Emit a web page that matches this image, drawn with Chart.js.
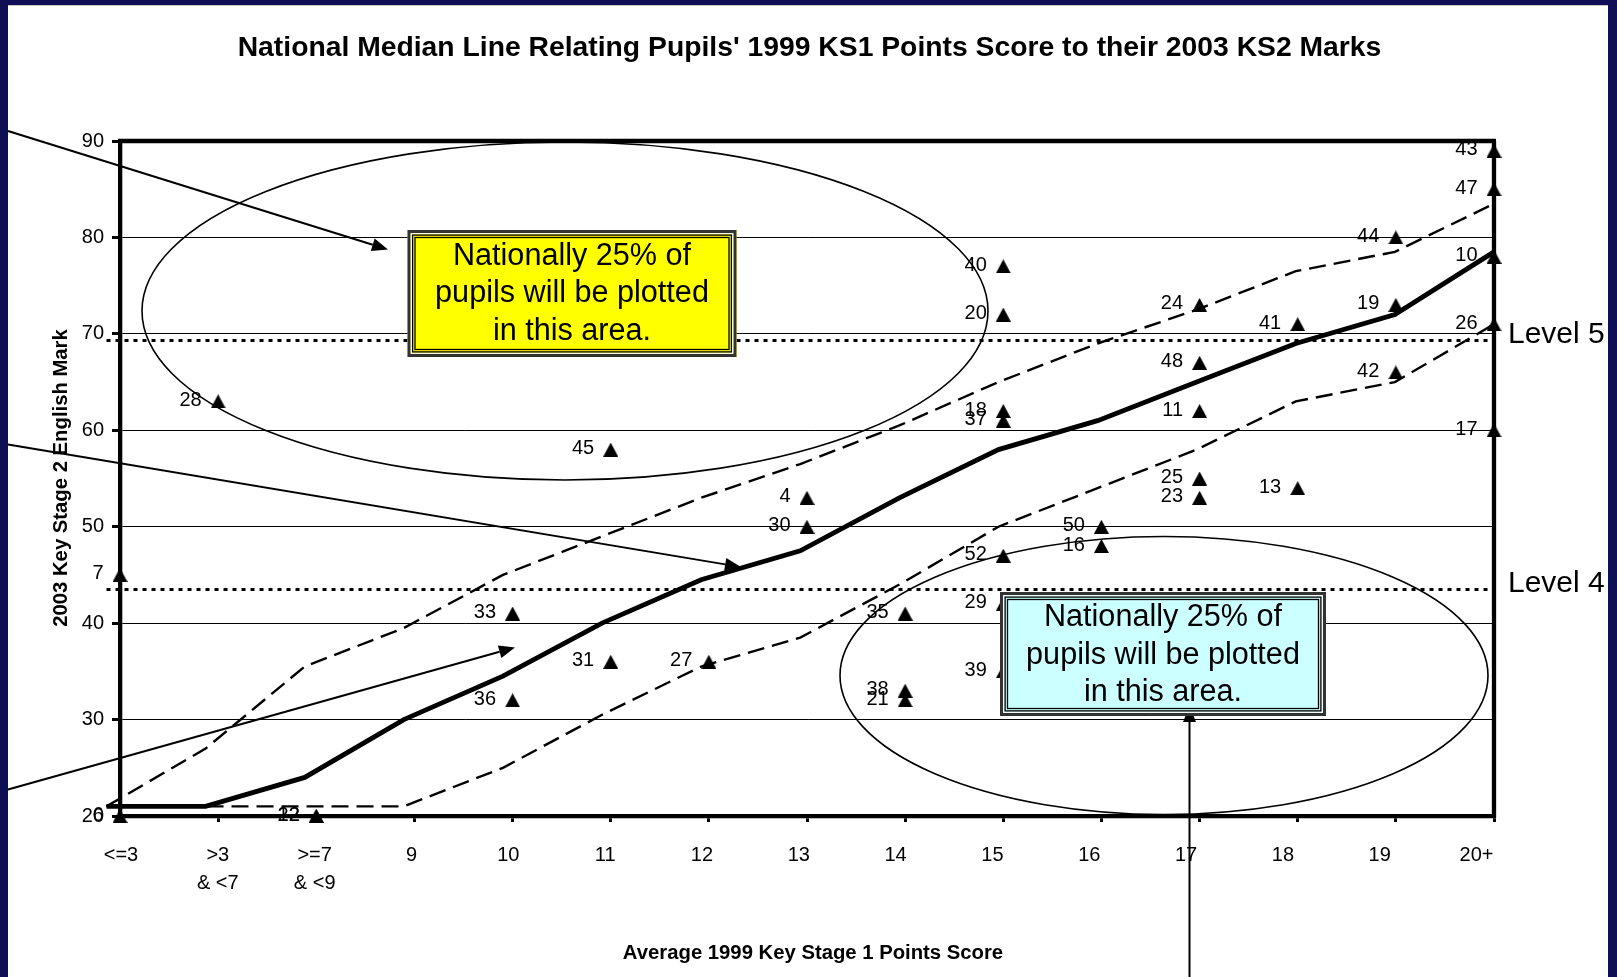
<!DOCTYPE html>
<html><head><meta charset="utf-8">
<script src="https://cdn.jsdelivr.net/npm/chart.js@4.4.1/dist/chart.umd.min.js"></script>
<style>html,body{margin:0;padding:0;background:#fff;overflow:hidden}canvas{display:block}</style>
</head><body>
<canvas id="c" width="1617" height="977"></canvas>
<script>
// ---------- data ----------
const categories = ['<=3', ['>3', '& <7'], ['>=7', '& <9'], '9', '10', '11', '12', '13', '14', '15', '16', '17', '18', '19', '20+'];
const yTicks = [20, 30, 40, 50, 60, 70, 80, 90];

const pupilIds  = ['28','45','40','20','18','37','4','30','52','50','16','7','33','35','29','31','27','39','38','21','36','24','41','19','44','48','11','42','25','23','13','43','47','10','26','17','6','12','22'];
const pupilCat  = [1, 5, 9, 9, 9, 9, 7, 7, 9, 10, 10, 0, 4, 8, 9, 5, 6, 9, 8, 8, 4, 11, 12, 13, 13, 11, 11, 13, 11, 11, 12, 14, 14, 14, 14, 14, 0, 2, 2];
const pupilMark = [63, 58, 77, 72, 62, 61, 53, 50, 47, 50, 48, 45, 41, 41, 42, 36, 36, 35, 33, 32, 32, 73, 71, 73, 80, 67, 62, 66, 55, 53, 54, 89, 85, 78, 71, 60, 20, 20, 20];

const medianLine    = [21, 21, 24, 30, 34.5, 40, 44.5, 47.5, 53, 58, 61, 65, 69, 72, 78.5];
const upperQuartile = [21, 27, 35.5, 39.5, 45, 49, 53, 56.5, 60.5, 65, 69, 72.5, 76.5, 78.5, 83.5];
const lowerQuartile = [21, 21, 21, 21, 25, 30.5, 35.5, 38.5, 44, 50, 54, 58, 63, 65, 71];

const levelNames = ['Level 5', 'Level 4'];
const levelMarks = [69.3, 43.5];

const chartTitle = "National Median Line Relating Pupils' 1999 KS1 Points Score to their 2003 KS2 Marks";
const xTitle = 'Average 1999 Key Stage 1 Points Score';
const yTitle = '2003 Key Stage 2 English Mark';
const noteLines = ['Nationally 25% of', 'pupils will be plotted', 'in this area.'];

// ---------- helpers ----------
const FONT = "'Liberation Sans', Arial, Helvetica, sans-serif";
Chart.defaults.font.family = FONT;
Chart.defaults.color = '#000';

const lastIdx = categories.length - 1;
const toPts = arr => arr.map((v, i) => ({x: i, y: v}));

// Triangle marker centred on its bounding box (like the spreadsheet marker)
const tri = document.createElement('canvas');
tri.width = 15; tri.height = 14;
(function(){ const t = tri.getContext('2d'); t.beginPath(); t.moveTo(7.5, 0); t.lineTo(15, 14); t.lineTo(0, 14); t.closePath(); t.fillStyle = '#000'; t.fill(); })();

function arrow(ctx, x1, y1, x2, y2) {
  const a = Math.atan2(y2 - y1, x2 - x1), L = 16, W = 6.5;
  const bx = x2 - L * Math.cos(a), by = y2 - L * Math.sin(a);
  ctx.beginPath(); ctx.moveTo(x1, y1); ctx.lineTo(bx, by);
  ctx.lineWidth = 2; ctx.strokeStyle = '#000'; ctx.stroke();
  ctx.beginPath(); ctx.moveTo(x2, y2);
  ctx.lineTo(bx - W * Math.sin(a), by + W * Math.cos(a));
  ctx.lineTo(bx + W * Math.sin(a), by - W * Math.cos(a));
  ctx.closePath(); ctx.fillStyle = '#000'; ctx.fill();
}
function ellipse(ctx, cx, cy, rx, ry) {
  ctx.beginPath(); ctx.ellipse(cx, cy, rx, ry, 0, 0, Math.PI * 2);
  ctx.lineWidth = 1.6; ctx.strokeStyle = '#000'; ctx.stroke();
}
function noteBox(ctx, x0, y0, x1, y1, fill, baselines) {
  ctx.fillStyle = fill; ctx.fillRect(x0, y0, x1 - x0, y1 - y0);
  const sr = (ins, w, c) => { ctx.lineWidth = w; ctx.strokeStyle = c; ctx.strokeRect(x0 + ins, y0 + ins, x1 - x0 - 2 * ins, y1 - y0 - 2 * ins); };
  sr(1.6, 3.2, '#333');
  sr(3.8, 1.3, '#fff');
  sr(5.1, 1.3, '#000');
  sr(7.5, 1.3, '#000');
  ctx.fillStyle = '#000'; ctx.font = '30.6px ' + FONT; ctx.textAlign = 'center'; ctx.textBaseline = 'alphabetic';
  const cx = (x0 + x1) / 2;
  noteLines.forEach((t, i) => ctx.fillText(t, cx, baselines[i]));
}

const decor = {
  id: 'decor',
  beforeDraw(chart) {
    const ctx = chart.ctx;
    ctx.save();
    ctx.fillStyle = '#0f0f55'; ctx.fillRect(0, 0, 1617, 977);
    ctx.fillStyle = '#ffffff'; ctx.fillRect(8, 5, 1600, 972);
    ctx.fillStyle = '#c8c8c8'; ctx.fillRect(8, 5, 1600, 1);
    ctx.restore();
  },
  beforeDatasetsDraw(chart) {
    const {ctx, chartArea: a} = chart;
    ctx.save();
    ctx.strokeStyle = '#000'; ctx.lineWidth = 4.3;
    ctx.beginPath(); ctx.moveTo(a.left - 2, a.top); ctx.lineTo(a.right + 2, a.top);
    ctx.moveTo(a.right, a.top); ctx.lineTo(a.right, a.bottom + 2); ctx.stroke();
    ctx.restore();
  },
  afterDatasetsDraw(chart) {
    const ctx = chart.ctx;
    const meta = chart.getDatasetMeta(0);
    ctx.save();
    ctx.font = '20px ' + FONT; ctx.fillStyle = '#000';
    ctx.textAlign = 'right'; ctx.textBaseline = 'middle';
    meta.data.forEach((p, i) => ctx.fillText(pupilIds[i], p.x - 16.5, p.y - 1));
    ctx.restore();
  },
  afterDraw(chart) {
    const ctx = chart.ctx;
    const ys = chart.scales.y;
    ctx.save();
    // ellipses
    ellipse(ctx, 565, 311, 423, 169);
    ellipse(ctx, 1164, 675.5, 324, 139);
    // arrows
    arrow(ctx, 8, 131, 388, 249.5);
    arrow(ctx, 8, 444.6, 741, 567);
    arrow(ctx, 8, 789.5, 515, 647.5);
    arrow(ctx, 1189.5, 977, 1189.5, 706);
    // boxes
    noteBox(ctx, 407.5, 230, 736.5, 357, '#ffff00', [264.5, 302, 339.5]);
    noteBox(ctx, 1000, 592, 1326, 716, '#ccffff', [626, 663.5, 701]);
    // level labels
    ctx.fillStyle = '#000'; ctx.font = '30px ' + FONT; ctx.textAlign = 'left'; ctx.textBaseline = 'middle';
    levelMarks.forEach((v, i) => ctx.fillText(levelNames[i], 1508, ys.getPixelForValue(v) - 6));
    // titles
    ctx.textAlign = 'center'; ctx.textBaseline = 'alphabetic';
    ctx.font = 'bold 28.3px ' + FONT;
    ctx.fillText(chartTitle, 809.5, 56);
    ctx.font = 'bold 20.3px ' + FONT;
    ctx.fillText(xTitle, 813, 959);
    ctx.translate(66.5, 478); ctx.rotate(-Math.PI / 2);
    ctx.fillText(yTitle, 0, 0);
    ctx.restore();
  }
};

const lineCommon = {type: 'line', xAxisID: 'x2', yAxisID: 'y', pointRadius: 0, tension: 0, fill: false, clip: false, borderColor: '#000'};

new Chart(document.getElementById('c'), {
  data: {
    datasets: [
      {type: 'scatter', label: 'Pupils', xAxisID: 'x', yAxisID: 'y', clip: false,
       data: pupilCat.map((c, i) => ({x: c, y: pupilMark[i]})),
       pointStyle: tri, pointRadius: 7, pointHoverRadius: 7, backgroundColor: '#000', borderColor: '#000'},
      Object.assign({label: 'Median', data: toPts(medianLine), borderWidth: 4.8}, lineCommon),
      Object.assign({label: 'Upper quartile', data: toPts(upperQuartile), borderWidth: 2.4, borderDash: [17, 8]}, lineCommon),
      Object.assign({label: 'Lower quartile', data: toPts(lowerQuartile), borderWidth: 2.4, borderDash: [17, 8]}, lineCommon),
      ...levelMarks.map((v, i) => Object.assign({label: levelNames[i], data: [{x: 0, y: v}, {x: lastIdx, y: v}], borderWidth: 3, borderDash: [4, 5]}, lineCommon))
    ]
  },
  options: {
    responsive: false, animation: false, devicePixelRatio: 1,
    layout: {padding: {left: 0, right: 123, top: 141, bottom: 0}},
    plugins: {legend: {display: false}, tooltip: {enabled: false}, title: {display: false}},
    scales: {
      x: {
        type: 'linear', position: 'bottom', min: 0, max: lastIdx,
        afterBuildTicks: s => { s.ticks = categories.map((_, i) => ({value: i})); },
        grid: {display: true, drawOnChartArea: false, drawTicks: true, tickLength: 6, tickWidth: 3, tickColor: '#000', color: '#000'},
        border: {display: true, width: 4.3, color: '#000'},
        ticks: {display: false},
        afterFit: s => { s.height = 8; }
      },
      xl: {
        type: 'linear', position: 'bottom', min: -0.0103, max: 14.18,
        afterBuildTicks: s => { s.ticks = categories.map((_, i) => ({value: i})); },
        grid: {display: false, drawTicks: false},
        border: {display: false},
        ticks: {autoSkip: false, maxRotation: 0, minRotation: 0, padding: 17.5, color: '#000',
                font: {size: 20, lineHeight: 1.4}, callback: v => categories[v]},
        afterFit: s => { s.height = 153; }
      },
      x2: {type: 'linear', display: false, min: 0.136, max: lastIdx},
      y: {
        type: 'linear', position: 'left', min: yTicks[0], max: yTicks[yTicks.length - 1],
        afterBuildTicks: s => { s.ticks = yTicks.map(v => ({value: v})); },
        grid: {color: '#000', lineWidth: 1, drawTicks: true, tickLength: 8, tickWidth: 3, tickColor: '#000'},
        border: {display: true, width: 4.3, color: '#000'},
        ticks: {padding: 8, color: '#000', font: {size: 20}},
        afterFit: s => { s.width = 120; }
      }
    }
  },
  plugins: [decor]
});
</script>
</body></html>
